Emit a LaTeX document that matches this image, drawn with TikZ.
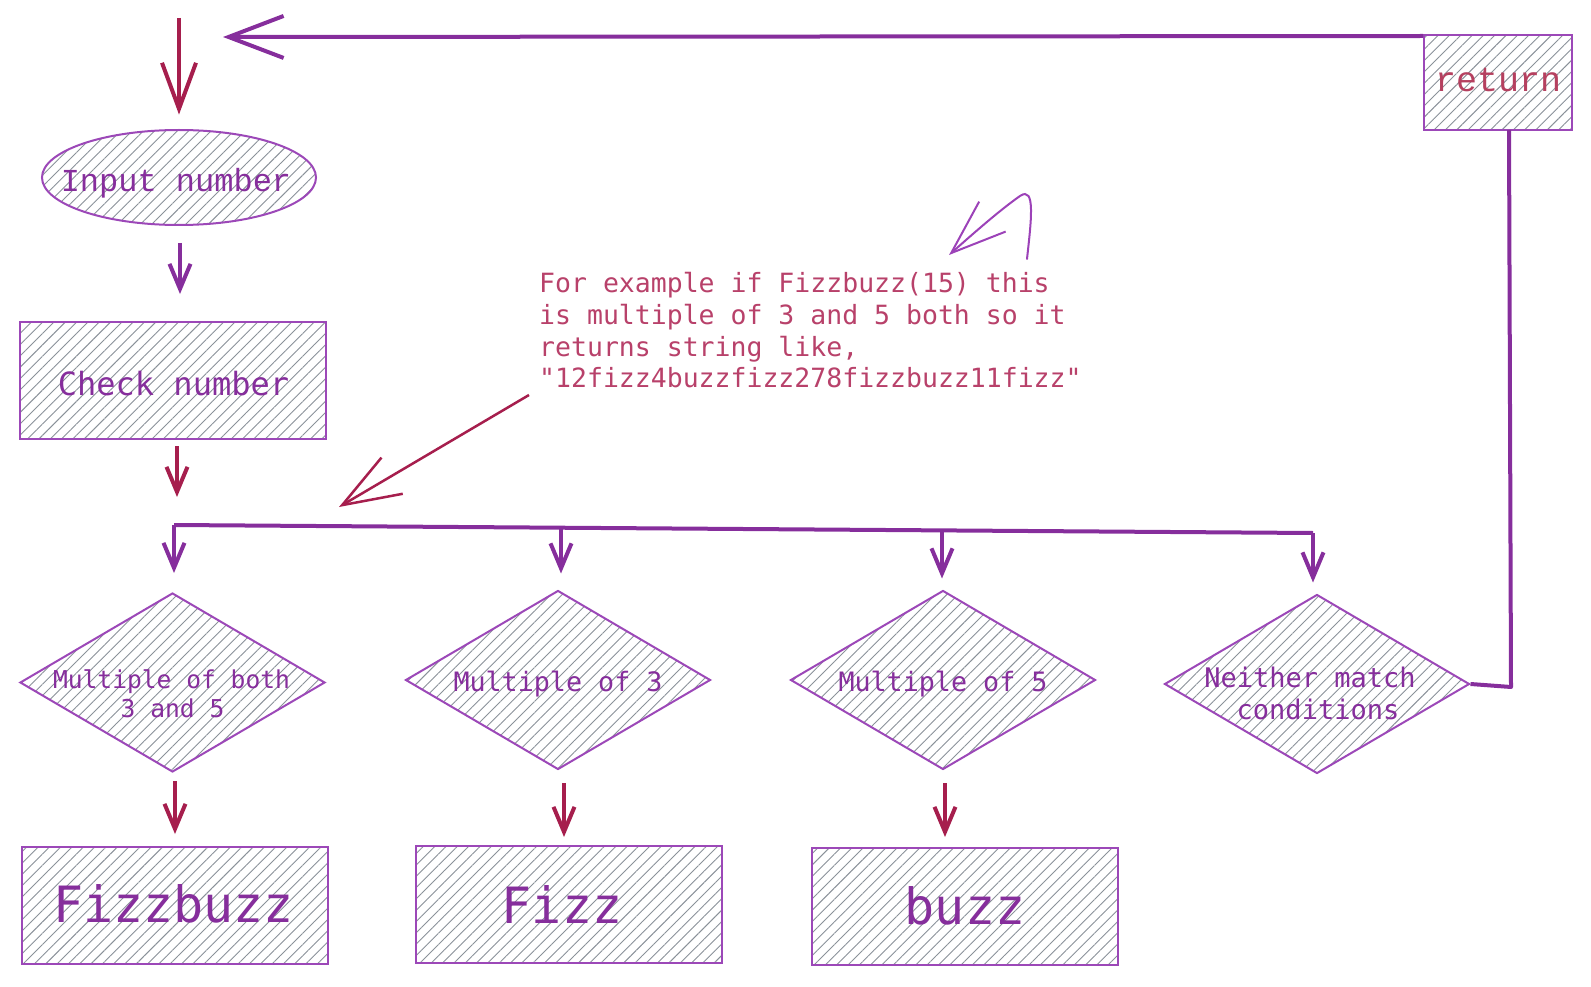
\documentclass[tikz,border=0pt]{standalone}
\usepackage{fontspec}
\newfontfamily\cmono{DejaVu Sans Mono}
\newfontfamily\lmono{Liberation Mono}
\usetikzlibrary{shapes.geometric,arrows.meta,patterns.meta}
\definecolor{grape}{HTML}{862E9C}
\definecolor{crim}{HTML}{A61E4D}
\definecolor{shp}{HTML}{9C48B8}
\definecolor{hatch}{HTML}{8A9199}
\definecolor{notec}{HTML}{B8416A}
\definecolor{retc}{HTML}{B5405F}
\definecolor{curvec}{HTML}{9C42B8}
\tikzset{
  hatched/.style={draw=shp, line width=2pt, inner sep=0pt,
    pattern={Lines[angle=45,distance=8pt,line width=0.9pt]}, pattern color=hatch},
  rbox/.style={hatched, rectangle, minimum width=306pt, minimum height=117pt},
  dbox/.style={hatched, diamond, minimum width=305pt, minimum height=179pt},
  stxt/.style={text=grape, inner sep=0pt, anchor=base},
  pline/.style={draw=grape, line width=4pt, line join=round},
  parr/.style={draw=grape, line width=4pt, -{Straight Barb[length=25pt,width=21pt]}},
  carr/.style={draw=crim, line width=4pt, -{Straight Barb[length=25pt,width=21pt]}},
  notetxt/.style={text=notec, inner sep=0pt, anchor=base west, font=\cmono\fontsize{26.5}{32}\selectfont},
}
\begin{document}
\begin{tikzpicture}[x=1pt,y=-1pt]
\useasboundingbox (0,0) rectangle (1591,987);

% shapes
\node[hatched, ellipse, minimum width=274pt, minimum height=95pt] (inp) at (179,177.5) {};
\node[rbox] (check) at (173,380.5) {};
\node[dbox] (d1) at (172.5,682.5) {};
\node[dbox] (d2) at (558,680) {};
\node[dbox] (d3) at (943,680) {};
\node[dbox] (d4) at (1317,684) {};
\node[rbox] (fb) at (175,905) {};
\node[rbox] (fz) at (568.5,904.5) {};
\node[rbox] (bz) at (964.5,906.5) {};
\node[hatched, rectangle, minimum width=148pt, minimum height=95pt] (ret) at (1498,82.5) {};

% texts
\node[stxt, font=\lmono\fontsize{32}{38}\selectfont] (tinp) at (176,192) {Input number};
\node[stxt, font=\cmono\fontsize{32}{38}\selectfont] (tchk) at (173.5,395) {Check number};
\node[stxt, font=\cmono\fontsize{24.6}{30}\selectfont] (t1a) at (171.5,688) {Multiple of both};
\node[stxt, font=\cmono\fontsize{24.6}{30}\selectfont] (t1b) at (172.5,717) {3 and 5};
\node[stxt, font=\cmono\fontsize{26.7}{32}\selectfont] (t2) at (558,691) {Multiple of 3};
\node[stxt, font=\cmono\fontsize{26.7}{32}\selectfont] (t3) at (943,691) {Multiple of 5};
\node[stxt, font=\cmono\fontsize{27}{32}\selectfont] (t4a) at (1310,687) {Neither match};
\node[stxt, font=\cmono\fontsize{27}{32}\selectfont] (t4b) at (1318,719) {conditions};
\node[stxt, font=\cmono\fontsize{50}{60}\selectfont] (tfb) at (173.5,922) {Fizzbuzz};
\node[stxt, font=\cmono\fontsize{50}{60}\selectfont] (tfz) at (562,923) {Fizz};
\node[stxt, font=\cmono\fontsize{50}{60}\selectfont] (tbz) at (965,924) {buzz};
\node[stxt, text=retc, font=\lmono\fontsize{35}{40}\selectfont] (tret) at (1498,92) {return};

\node[notetxt] (n1) at (539,292) {For example if Fizzbuzz(15) this};
\node[notetxt] (n2) at (539,324) {is multiple of 3 and 5 both so it};
\node[notetxt] (n3) at (539,356) {returns string like,};
\node[notetxt] (n4) at (539,387) {"12fizz4buzzfizz278fizzbuzz11fizz"};

% coordinates
\coordinate (top0) at (179,18);
\coordinate (retend) at (223,37);
\coordinate (ia) at (180,243);
\coordinate (ib) at (180,294);
\coordinate (chkbeg) at (177,446);
\coordinate (chkend) at (177,497);
\coordinate (b1) at (174,525);
\coordinate (b2) at (561,528);
\coordinate (b3) at (942,530);
\coordinate (b4) at (1313,533);
\coordinate (e1a) at (175,781);
\coordinate (e1b) at (175,834);
\coordinate (e2a) at (564,783);
\coordinate (e2b) at (564,837);
\coordinate (e3a) at (945,783);
\coordinate (e3b) at (945,837);
\coordinate (rc) at (1511,687);
\coordinate (rtop) at (1509,130);
\coordinate (notestart) at (529,395);
\coordinate (notetip) at (339,507);
\coordinate (cstart) at (1027,259);
\coordinate (ctip) at (949,255);

% connectors
\draw[draw=crim, line width=4pt, -{Straight Barb[length=46pt,width=34pt]}, shorten >=15pt] (top0) -- (top0 |- inp.north);
\draw[draw=grape, line width=4pt, -{Straight Barb[length=55pt,width=42pt]}] ([yshift=-2pt]ret.north west) -- (retend);
\draw[parr] (ia) -- (ib);
\draw[carr] (chkbeg) -- (chkend);
\draw[pline] (b1) -- (b4);
\draw[parr, shorten >=19pt] (b1) -- (b1 |- d1.north);
\draw[parr, shorten >=16pt] (b2) -- (b2 |- d2.north);
\draw[parr, shorten >=11pt] (b3) -- (b3 |- d3.north);
\draw[parr, shorten >=11pt] (b4) -- (b4 |- d4.north);
\draw[carr] (e1a) -- (e1b);
\draw[carr] (e2a) -- (e2b);
\draw[carr] (e3a) -- (e3b);
\draw[pline] (d4.east) -- (rc) -- (rtop);
\draw[draw=crim, line width=2.5pt, -{Straight Barb[length=58pt,width=42pt]}] (notestart) -- (notetip);
\draw[draw=curvec, line width=2pt, line cap=round, -{Straight Barb[length=55pt,width=40pt]}]
  (cstart) .. controls (1031,222) and (1036,185) .. (1020,196)
  .. controls (1000,210) and (975,232) .. (ctip);
\end{tikzpicture}
\end{document}
